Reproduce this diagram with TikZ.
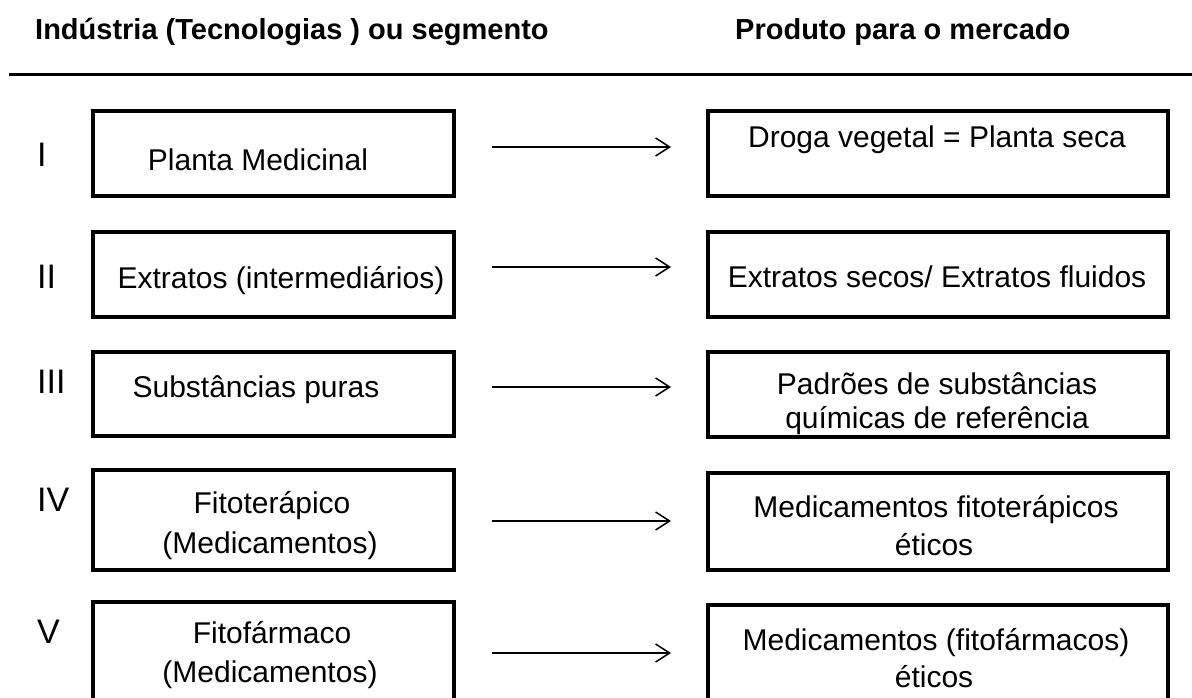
\documentclass[tikz,border=0pt]{standalone}
\usepackage{fontspec}
\setmainfont{Liberation Sans}
\usetikzlibrary{arrows.meta}
\begin{document}
\begin{tikzpicture}[x=1pt,y=-1pt,
  box/.style={draw, line width=3.6pt, inner sep=0pt, outer sep=0pt},
  lbox/.style={box, minimum width=361pt},
  rbox/.style={box, minimum width=460pt},
  txt/.style={anchor=base, inner sep=0pt, font=\fontsize{30}{36}\selectfont},
  num/.style={anchor=base west, inner sep=0pt, font=\fontsize{34}{40}\selectfont},
  head/.style={anchor=base west, inner sep=0pt, font=\fontsize{29}{34}\selectfont\bfseries},
  conn/.style={line width=1.5pt, -{Straight Barb[length=14pt,width=18pt,line width=1.5pt]}}
]
\useasboundingbox (0,0) rectangle (1192,698);
\clip (0,0) rectangle (1192,698);
% header
\node[head] (h1) at (35,40) {Indústria (Tecnologias ) ou segmento};
\node[head] (h2) at (735,40) {Produto para o mercado};
\coordinate (r1) at (9,75);
\coordinate (r2) at (1192,75);
\draw[line width=3pt] (r1) -- (r2);
% numerals
\node[num] (n1) at (37,167) {I};
\node[num] (n2) at (37,288) {II};
\node[num] (n3) at (37,393) {III};
\node[num] (n4) at (37,511) {IV};
\node[num] (n5) at (37,643) {V};
% left boxes
\node[lbox, minimum height=85pt] (L1) at (273.5,153.5) {};
\node[lbox, minimum height=85pt] (L2) at (273.5,274.5) {};
\node[lbox, minimum height=84pt] (L3) at (273.5,394) {};
\node[lbox, minimum height=100pt] (L4) at (273.5,520) {};
\node[lbox, minimum height=140pt] (L5) at (273.5,672) {};
% right boxes
\node[rbox, minimum height=85pt] (R1) at (938,153.5) {};
\node[rbox, minimum height=85pt] (R2) at (938,274.5) {};
\node[rbox, minimum height=85pt] (R3) at (938,394.5) {};
\node[rbox, minimum height=97pt] (R4) at (938,521.5) {};
\node[rbox, minimum height=140pt] (R5) at (938,675) {};
% left texts
\node[txt] (t1) at (258,171) {Planta Medicinal};
\node[txt] (t2) at (281,288) {Extratos (intermediários)};
\node[txt] (t3) at (256,397) {Substâncias puras};
\node[txt] (t4a) at (272,513) {Fitoterápico};
\node[txt] (t4b) at (270,553) {(Medicamentos)};
\node[txt] (t5a) at (272,643) {Fitofármaco};
\node[txt] (t5b) at (270,682) {(Medicamentos)};
% right texts
\node[txt] (u1) at (937,148) {Droga vegetal = Planta seca};
\node[txt] (u2) at (937,287) {Extratos secos/ Extratos fluidos};
\node[txt] (u3a) at (937,394) {Padrões de substâncias};
\node[txt] (u3b) at (937,428) {químicas de referência};
\node[txt] (u4a) at (936,517) {Medicamentos fitoterápicos};
\node[txt] (u4b) at (934,555) {éticos};
\node[txt] (u5a) at (936,650) {Medicamentos (fitofármacos)};
\node[txt] (u5b) at (934,687) {éticos};
% arrows
\coordinate (a1s) at (492,147); \coordinate (a1e) at (671,147);
\coordinate (a2s) at (492,267); \coordinate (a2e) at (671,267);
\coordinate (a3s) at (492,387); \coordinate (a3e) at (671,387);
\coordinate (a4s) at (492,521); \coordinate (a4e) at (671,521);
\coordinate (a5s) at (492,653); \coordinate (a5e) at (671,653);
\draw[conn] (a1s) -- (a1e);
\draw[conn] (a2s) -- (a2e);
\draw[conn] (a3s) -- (a3e);
\draw[conn] (a4s) -- (a4e);
\draw[conn] (a5s) -- (a5e);
\end{tikzpicture}
\end{document}
